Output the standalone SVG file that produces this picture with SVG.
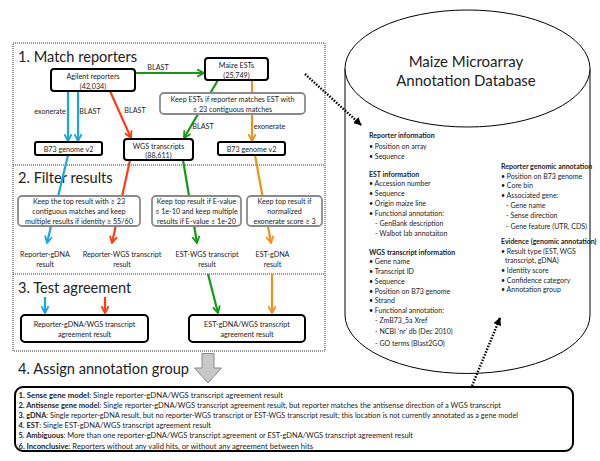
<svg xmlns="http://www.w3.org/2000/svg" width="600" height="461" viewBox="0 0 600 461">
<defs>
<style>
text{font-family:Lato,"Liberation Sans",sans-serif;fill:#222}
.h{font-size:14.6px}
.s{font-size:7.2px;text-anchor:middle}
.l{font-size:7px}
.b{font-weight:bold}
.bx{fill:#fff;stroke:#000;stroke-width:2}
.gb{fill:#fff;stroke:#8a8a8a;stroke-width:1.8}
.dot{fill:none;stroke:#333;stroke-width:1;stroke-dasharray:1 1}
.blue{stroke:#19a8e0;stroke-width:2.2;fill:none}
.red{stroke:#ff3c12;stroke-width:2.2;fill:none}
.green{stroke:#139a13;stroke-width:2.2;fill:none}
.orange{stroke:#f39019;stroke-width:2.2;fill:none}
.dk{stroke:#000;stroke-width:2.4;stroke-dasharray:1.5 1.5;fill:none}
</style>
<marker id="mb" viewBox="0 0 10 10" refX="8.5" refY="5" markerWidth="9" markerHeight="9" markerUnits="userSpaceOnUse" orient="auto"><path d="M1,1 L8.5,5 L1,9" fill="none" stroke="#19a8e0" stroke-width="2"/></marker>
<marker id="mr" viewBox="0 0 10 10" refX="8.5" refY="5" markerWidth="9" markerHeight="9" markerUnits="userSpaceOnUse" orient="auto"><path d="M1,1 L8.5,5 L1,9" fill="none" stroke="#ff3c12" stroke-width="2"/></marker>
<marker id="mg" viewBox="0 0 10 10" refX="8.5" refY="5" markerWidth="9" markerHeight="9" markerUnits="userSpaceOnUse" orient="auto"><path d="M1,1 L8.5,5 L1,9" fill="none" stroke="#139a13" stroke-width="2"/></marker>
<marker id="mo" viewBox="0 0 10 10" refX="8.5" refY="5" markerWidth="9" markerHeight="9" markerUnits="userSpaceOnUse" orient="auto"><path d="M1,1 L8.5,5 L1,9" fill="none" stroke="#f39019" stroke-width="2"/></marker>
<marker id="mk" viewBox="0 0 10 10" refX="9" refY="5" markerWidth="8" markerHeight="8" markerUnits="userSpaceOnUse" orient="auto"><path d="M0,0 L10,5 L0,10 Z" fill="#000"/></marker>
</defs>
<rect width="600" height="461" fill="#fff"/>

<!-- database cylinder -->
<g id="database">
<path d="M345,68.5 L345,315 A122.5,58.5 0 0 0 590,315 L590,68.5" fill="#fff" stroke="#000" stroke-width="1"/>
<ellipse cx="467.5" cy="68.5" rx="122.5" ry="58.5" fill="#fff" stroke="#000" stroke-width="1"/>
<text x="466" y="67" style="font-size:15px;text-anchor:middle">Maize Microarray</text>
<text x="466" y="86" style="font-size:15px;text-anchor:middle">Annotation Database</text>
<g class="l">
<text x="369" y="137.5" class="b">Reporter information</text>
<text x="369" y="149">• Position on array</text>
<text x="369" y="158.5">• Sequence</text>
<text x="369" y="176.5" class="b">EST information</text>
<text x="369" y="185.5">• Accession number</text>
<text x="369" y="195.5">• Sequence</text>
<text x="369" y="205.5">• Origin maize line</text>
<text x="369" y="215.5">• Functional annotation:</text>
<text x="375" y="225.5">- GenBank description</text>
<text x="375" y="235.5">- Walbot lab annotaiton</text>
<text x="369" y="255" class="b">WGS transcript information</text>
<text x="369" y="264">• Gene name</text>
<text x="369" y="274">• Transcript ID</text>
<text x="369" y="284">• Sequence</text>
<text x="369" y="293.5">• Position on B73 genome</text>
<text x="369" y="302.5">• Strand</text>
<text x="369" y="312.5">• Functional annotation:</text>
<text x="375" y="322.5">- ZmB73_5a Xref</text>
<text x="375" y="334">- NCBI ‘nr’ db (Dec 2010)</text>
<text x="375" y="345.5">- GO terms (Blast2GO)</text>
<text x="501" y="168.5" class="b">Reporter genomic annotation</text>
<text x="501" y="178.5">• Position on B73 genome</text>
<text x="501" y="188">• Core bin</text>
<text x="501" y="197.5">• Associated gene:</text>
<text x="506" y="207.5">- Gene name</text>
<text x="506" y="218">- Sense direction</text>
<text x="506" y="228.5">- Gene feature (UTR, CDS)</text>
<text x="501" y="244" class="b">Evidence (genomic annotation)</text>
<text x="501" y="253.5">• Result type (EST, WGS</text>
<text x="505" y="263">transcript, gDNA)</text>
<text x="501" y="273">• Identity score</text>
<text x="501" y="282.5">• Confidence category</text>
<text x="501" y="291.5">• Annotation group</text>
</g>
</g>

<!-- pipeline frame -->
<g id="frame">
<rect x="13" y="43" width="312" height="308" class="dot"/>
<line x1="13" y1="165" x2="325" y2="165" class="dot"/>
<line x1="13" y1="274" x2="325" y2="274" class="dot"/>
<text x="18" y="62" class="h">1. Match reporters</text>
<text x="18" y="183" class="h">2. Filter results</text>
<text x="18" y="293" class="h">3. Test agreement</text>
<text x="18" y="374" class="h">4. Assign annotation group</text>
</g>

<!-- connectors -->
<g id="connectors">
<line x1="135" y1="73" x2="204" y2="73" class="green" marker-end="url(#mg)"/>
<line x1="68" y1="91" x2="68" y2="141" class="blue" marker-end="url(#mb)"/>
<line x1="78" y1="91" x2="78" y2="141" class="blue" marker-end="url(#mb)"/>
<line x1="110" y1="91" x2="131" y2="138" class="red" marker-end="url(#mr)"/>
<line x1="218" y1="80" x2="184" y2="138" class="green" marker-end="url(#mg)"/>
<line x1="252" y1="80" x2="252" y2="141" class="orange" marker-end="url(#mo)"/>
<line x1="68" y1="155" x2="47" y2="243" class="blue" marker-end="url(#mb)"/>
<line x1="130" y1="160" x2="112" y2="243" class="red" marker-end="url(#mr)"/>
<line x1="183" y1="160" x2="197" y2="243" class="green" marker-end="url(#mg)"/>
<line x1="255" y1="155" x2="271" y2="243" class="orange" marker-end="url(#mo)"/>
<line x1="45" y1="297" x2="45" y2="313" class="blue" marker-end="url(#mb)"/>
<line x1="105" y1="297" x2="105" y2="313" class="red" marker-end="url(#mr)"/>
<line x1="208" y1="274" x2="218" y2="313" class="green" marker-end="url(#mg)"/>
<line x1="272" y1="274" x2="272" y2="313" class="orange" marker-end="url(#mo)"/>
<line x1="305" y1="74" x2="361" y2="125" class="dk" marker-end="url(#mk)"/>
<line x1="472" y1="386" x2="500" y2="318" class="dk" marker-end="url(#mk)"/>
<g class="s">
<text x="158" y="70">BLAST</text>
<text x="50" y="114">exonerate</text>
<text x="90" y="114">BLAST</text>
<text x="135" y="113">BLAST</text>
<text x="203" y="129">BLAST</text>
<text x="269.5" y="129">exonerate</text>
</g>
<polygon points="202,353.5 214,353.5 214,368 221.5,368 208,383 194.5,368 202,368" fill="#c8c8c8" stroke="#8a8a8a" stroke-width="1"/>
</g>

<!-- nodes -->
<g id="agilent"><rect x="51" y="69" width="84" height="22" rx="3" class="bx"/>
<text x="93" y="78.5" class="s">Agilent reporters</text><text x="93" y="88.5" class="s">(42,034)</text></g>
<g id="ests"><rect x="205" y="58" width="63" height="22" rx="3" class="bx"/>
<text x="236.5" y="67.5" class="s">Maize ESTs</text><text x="236.5" y="77.5" class="s">(25,749)</text></g>
<g id="estfilter"><rect x="160" y="93" width="145" height="21" rx="4" class="gb"/>
<text x="232.5" y="101.5" class="s">Keep ESTs if reporter matches EST with</text><text x="232.5" y="111.5" class="s">≥ 23 contiguous matches</text></g>
<g id="wgs"><rect x="124" y="139" width="69" height="21" rx="3" class="bx"/>
<text x="158.5" y="148.5" class="s">WGS transcripts</text><text x="158.5" y="157.5" class="s">(88,611)</text></g>
<g id="b73a"><rect x="35" y="142" width="67" height="13" rx="2" class="bx"/>
<text x="68.5" y="151.5" class="s">B73 genome v2</text></g>
<g id="b73b"><rect x="218" y="142" width="67" height="13" rx="2" class="bx"/>
<text x="251.5" y="151.5" class="s">B73 genome v2</text></g>

<g id="filter1"><rect x="18" y="196" width="122" height="30" rx="4" class="gb"/>
<text x="79" y="204" class="s">Keep the top result with ≥ 23</text><text x="79" y="214" class="s">contiguous matches and keep</text><text x="79" y="223.5" class="s">multiple results if identity ≥ 55/60</text></g>
<g id="filter2"><rect x="152" y="196" width="89" height="30" rx="4" class="gb"/>
<text x="196.5" y="204" class="s">Keep top result if E-value</text><text x="196.5" y="214" class="s">≤ 1e-10 and keep multiple</text><text x="196.5" y="223.5" class="s">results if E-value ≤ 1e-20</text></g>
<g id="filter3"><rect x="247" y="196" width="75" height="30" rx="4" class="gb"/>
<text x="284.5" y="204" class="s">Keep top result if</text><text x="284.5" y="214" class="s">normalized</text><text x="284.5" y="223.5" class="s">exonerate score ≥ 3</text></g>

<g id="res1"><text x="45" y="257" class="s">Reporter-gDNA</text><text x="45" y="267" class="s">result</text></g>
<g id="res2"><text x="122" y="257" class="s">Reporter-WGS transcript</text><text x="122" y="267" class="s">result</text></g>
<g id="res3"><text x="207" y="257" class="s">EST-WGS transcript</text><text x="207" y="267" class="s">result</text></g>
<g id="res4"><text x="272.5" y="257" class="s">EST-gDNA</text><text x="272.5" y="267" class="s">result</text></g>

<g id="agree1"><rect x="21" y="315" width="127" height="27" rx="4" class="bx"/>
<text x="84.5" y="327" class="s">Reporter-gDNA/WGS transcript</text><text x="84.5" y="336.5" class="s">agreement result</text></g>
<g id="agree2"><rect x="189" y="315" width="116" height="27" rx="4" class="bx"/>
<text x="247" y="327" class="s">EST-gDNA/WGS transcript</text><text x="247" y="336.5" class="s">agreement result</text></g>

<g id="groups"><rect x="15" y="387" width="558" height="64" rx="8" class="bx"/>
<g style="font-size:7.7px">
<text x="18.5" y="397.5" textLength="264.5" lengthAdjust="spacingAndGlyphs"><tspan class="b">1.  Sense gene model</tspan>: Single reporter-gDNA/WGS transcript agreement result</text>
<text x="18.5" y="407.7" textLength="482.5" lengthAdjust="spacingAndGlyphs"><tspan class="b">2.  Antisense gene model</tspan>: Single reporter-gDNA/WGS transcript agreement result, but reporter matches the antisense direction of a WGS transcript</text>
<text x="18.5" y="417.9" textLength="499.5" lengthAdjust="spacingAndGlyphs"><tspan class="b">3.  gDNA</tspan>: Single reporter-gDNA result, but no reporter-WGS transcript  or EST-WGS transcript result; this location is not currently annotated as a gene model</text>
<text x="18.5" y="428.1" textLength="192.5" lengthAdjust="spacingAndGlyphs"><tspan class="b">4.  EST</tspan>: Single EST-gDNA/WGS transcript agreement result</text>
<text x="18.5" y="438.3" textLength="394.5" lengthAdjust="spacingAndGlyphs"><tspan class="b">5.  Ambiguous</tspan>: More than one reporter-gDNA/WGS transcript agreement or EST-gDNA/WGS transcript agreement result</text>
<text x="18.5" y="448.5" textLength="294.5" lengthAdjust="spacingAndGlyphs"><tspan class="b">6.  Inconclusive</tspan>: Reporters without any valid hits, or without any agreement between hits</text>
</g></g>
</svg>
